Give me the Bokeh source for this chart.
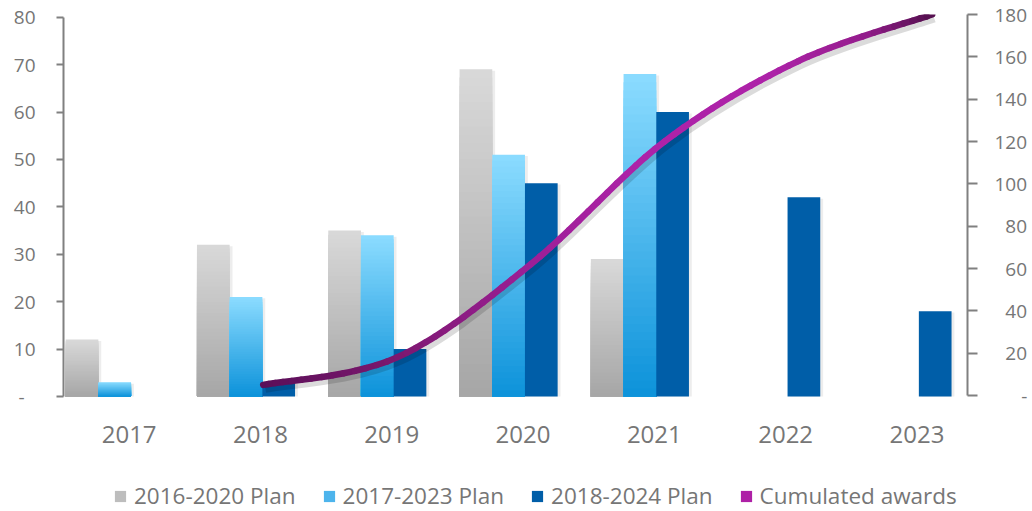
import numpy as np
from bokeh.plotting import figure
from bokeh.models import (Range1d, LinearAxis, FixedTicker, Legend, LegendItem,
                          ColumnDataSource)
from bokeh.embed import file_html
from bokeh.resources import INLINE

# ---------------- data ----------------
years = ["2017", "2018", "2019", "2020", "2021", "2022", "2023"]
plan_2016_2020 = [12, 32, 35, 69, 29, 0, 0]
plan_2017_2023 = [3, 21, 34, 51, 68, 0, 0]
plan_2018_2024 = [0, 3, 10, 45, 60, 42, 18]
award_years = [2018, 2019, 2020, 2021, 2022, 2023]
cumulated_awards = [5, 18, 62, 120, 158, 180]
left_ticks = [0, 10, 20, 30, 40, 50, 60, 70, 80]
right_ticks = [0, 20, 40, 60, 80, 100, 120, 140, 160, 180]
series_names = ["2016-2020 Plan", "2017-2023 Plan", "2018-2024 Plan", "Cumulated awards"]

# ---------------- style ----------------
FONT = "Open Sans"
TXT = "#767676"
AXC = "#808080"
BAR_W = 0.249
OFFSETS = [-0.359, -0.11, 0.139]
GRAY_TOP, GRAY_BOT = (217, 217, 217), (166, 166, 166)
BLUE_TOP, BLUE_BOT = (140, 220, 255), (12, 146, 218)
DARK = "#005ea8"


def mix(top, bot, t):
    c = [int(round(b + (a - b) * t)) for a, b in zip(top, bot)]
    return "#%02x%02x%02x" % tuple(c)


def hex2rgb(h):
    h = h.lstrip("#")
    return tuple(int(h[i:i + 2], 16) for i in (0, 2, 4))


# frame runs down to the bottom of the page; the value axes stop at 0
p = figure(width=1032, height=511, x_range=Range1d(0, 6.885), y_range=Range1d(-24.255, 80.569),
           output_backend="svg", toolbar_location=None, title=None,
           min_border_left=63, min_border_right=65, min_border_top=14, min_border_bottom=0)
p.xgrid.visible = False
p.ygrid.visible = False
p.outline_line_color = None
p.background_fill_color = "white"
p.border_fill_color = "white"

p.extra_y_ranges = {"right": Range1d(-54.8, 180)}
p.extra_x_ranges = {"line": Range1d(2016.5075, 2023.264)}

# x axis (categories), pinned at value 0
xa = p.xaxis[0]
xa.fixed_location = 0
centers = [i + 0.5 for i in range(len(years))]
xa.ticker = FixedTicker(ticks=centers)
xa.major_label_overrides = {c: y for c, y in zip(centers, years)}
xa.axis_line_color = None
xa.major_tick_line_color = None
xa.minor_tick_line_color = None
xa.major_tick_out = 0
xa.major_tick_in = 0
xa.major_label_standoff = 29
xa.major_label_text_font = FONT
xa.major_label_text_font_size = "24px"
xa.major_label_text_color = TXT

# left axis
ya = p.yaxis[0]
ya.ticker = FixedTicker(ticks=left_ticks)
ya.bounds = (left_ticks[0], left_ticks[-1])
ya.major_label_overrides = {0: "-\u2007"}
ya.axis_line_color = AXC
ya.axis_line_width = 2
ya.major_tick_line_color = AXC
ya.major_tick_line_width = 2
ya.major_tick_out = 7
ya.major_tick_in = 0
ya.minor_tick_line_color = None
ya.major_label_standoff = 21
ya.major_label_text_font = FONT
ya.major_label_text_font_size = "19px"
ya.major_label_text_color = TXT

# right axis
ra = LinearAxis(y_range_name="right", ticker=FixedTicker(ticks=right_ticks),
                bounds=(right_ticks[0], right_ticks[-1]))
ov = {0: "\u2007\u2007\u00a0-"}
for t in right_ticks[1:]:
    if t < 100:
        ov[t] = "\u2007" + str(t)
ra.major_label_overrides = ov
ra.axis_line_color = AXC
ra.axis_line_width = 2
ra.major_tick_line_color = AXC
ra.major_tick_line_width = 2
ra.major_tick_out = 10
ra.major_tick_in = 0
ra.minor_tick_line_color = None
ra.major_label_standoff = 17
ra.major_label_text_font = FONT
ra.major_label_text_font_size = "19px"
ra.major_label_text_color = TXT
p.add_layout(ra, "right")

# ---------------- bars ----------------
sx, stop = [], []
for vals, off in zip([plan_2016_2020, plan_2017_2023, plan_2018_2024], OFFSETS):
    for i, v in enumerate(vals):
        if v > 0:
            sx.append(i + 0.5 + off + 0.022)
            stop.append(v - 0.3)
p.vbar(x=sx, top=stop, bottom=0, width=BAR_W, fill_color="black", fill_alpha=0.07, line_color=None)

N = 40
gx, gtop, gcol = [], [], []
for vals, off, (ct, cb) in [(plan_2016_2020, OFFSETS[0], (GRAY_TOP, GRAY_BOT)),
                            (plan_2017_2023, OFFSETS[1], (BLUE_TOP, BLUE_BOT))]:
    for i, v in enumerate(vals):
        if v <= 0:
            continue
        for k in range(N, 0, -1):
            gx.append(i + 0.5 + off)
            gtop.append(v * k / N)
            gcol.append(mix(ct, cb, (k - 0.5) / N))
p.vbar(x=gx, top=gtop, bottom=0, width=BAR_W, fill_color=gcol, line_color=None)

dx = [i + 0.5 + OFFSETS[2] for i, v in enumerate(plan_2018_2024) if v > 0]
dtop = [v for v in plan_2018_2024 if v > 0]
r_dark = p.vbar(x=dx, top=dtop, bottom=0, width=BAR_W, fill_color=DARK, line_color=None)

# ---------------- smoothed cumulative line ----------------
P = np.array([[x, y] for x, y in zip(award_years, cumulated_awards)], dtype=float)
n = len(P)
segs = []
for i in range(n - 1):
    p0 = P[i - 1] if i > 0 else P[i]
    p3 = P[i + 2] if i + 2 < n else P[i + 1]
    c1 = P[i] + (P[i + 1] - p0) / 6.0
    c2 = P[i + 1] - (p3 - P[i]) / 6.0
    segs.append((P[i], c1, c2, P[i + 1]))


def bez(b, t):
    a0, a1, a2, a3 = b
    return ((1 - t) ** 3) * a0 + 3 * ((1 - t) ** 2) * t * a1 + 3 * (1 - t) * t * t * a2 + t ** 3 * a3


def dbez(b, t):
    a0, a1, a2, a3 = b
    return 3 * ((1 - t) ** 2) * (a1 - a0) + 6 * (1 - t) * t * (a2 - a1) + 3 * t * t * (a3 - a2)


stops = [(2018.0, "#5a0f58"), (2019.0, "#7c186f"), (2020.0, "#9c1f96"), (2020.8, "#ad22a8"),
         (2021.8, "#ad22a8"), (2022.5, "#951d8e"), (2023.0, "#55104f")]


def line_color(x):
    for (xa_, ca), (xb, cb) in zip(stops[:-1], stops[1:]):
        if x <= xb:
            t = max(0.0, min(1.0, (x - xa_) / (xb - xa_)))
            return mix(hex2rgb(cb), hex2rgb(ca), t)
    return stops[-1][1]


M = 14
cols = {k: [] for k in ["x0", "y0", "x1", "y1", "cx0", "cy0", "cx1", "cy1", "c"]}
for b in segs:
    for j in range(M):
        t0, t1 = j / M, (j + 1) / M
        q0, q3 = bez(b, t0), bez(b, t1)
        q1 = q0 + (t1 - t0) / 3.0 * dbez(b, t0)
        q2 = q3 - (t1 - t0) / 3.0 * dbez(b, t1)
        cols["x0"].append(q0[0]); cols["y0"].append(q0[1])
        cols["x1"].append(q3[0]); cols["y1"].append(q3[1])
        cols["cx0"].append(q1[0]); cols["cy0"].append(q1[1])
        cols["cx1"].append(q2[0]); cols["cy1"].append(q2[1])
        cols["c"].append(line_color(bez(b, (t0 + t1) / 2)[0]))

shx, shy = 0.016, -1.9
p.bezier(x0=[s[0][0] + shx for s in segs], y0=[s[0][1] + shy for s in segs],
         x1=[s[3][0] + shx for s in segs], y1=[s[3][1] + shy for s in segs],
         cx0=[s[1][0] + shx for s in segs], cy0=[s[1][1] + shy for s in segs],
         cx1=[s[2][0] + shx for s in segs], cy1=[s[2][1] + shy for s in segs],
         line_color="black", line_alpha=0.14, line_width=8, line_cap="butt",
         x_range_name="line", y_range_name="right")

p.bezier(x0="x0", y0="y0", x1="x1", y1="y1", cx0="cx0", cy0="cy0", cx1="cx1", cy1="cy1",
         source=ColumnDataSource(cols), line_color="c", line_width=6.5, line_cap="round",
         x_range_name="line", y_range_name="right")

# ---------------- legend (zero-width proxies built from each series) ----------------
r_gray = p.vbar(x=[i + 0.5 + OFFSETS[0] for i in range(len(years))], top=plan_2016_2020,
                width=0, fill_color="#bdbdbd", line_color=None)
r_blue = p.vbar(x=[i + 0.5 + OFFSETS[1] for i in range(len(years))], top=plan_2017_2023,
                width=0, fill_color="#4db4ec", line_color=None)
r_line = p.vbar(x=award_years, top=cumulated_awards, width=0, fill_color="#ae20a6",
                line_color=None, x_range_name="line", y_range_name="right")
items = [LegendItem(label=name, renderers=[r])
         for name, r in zip(series_names, [r_gray, r_blue, r_dark, r_line])]

legend = Legend(items=items, orientation="horizontal", location=(50, 0),
                glyph_width=14, glyph_height=14, label_standoff=7, spacing=26,
                padding=0, margin=0, border_line_color=None, background_fill_alpha=0,
                label_text_font=FONT, label_text_font_size="22.5px", label_text_color=TXT)
p.add_layout(legend)

open("out.html", "w").write(file_html(p, INLINE))
